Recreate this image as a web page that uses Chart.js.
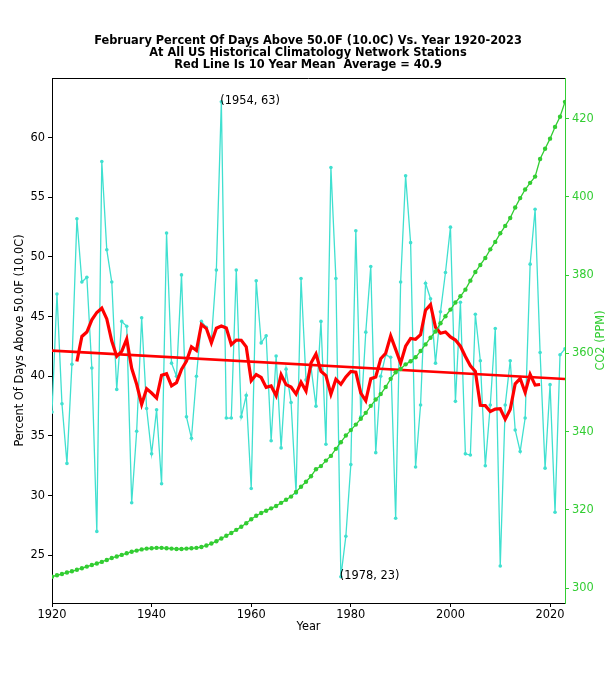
<!DOCTYPE html>
<html><head><meta charset="utf-8">
<script src="https://cdn.jsdelivr.net/npm/chart.js@4/dist/chart.umd.min.js"></script>
<style>html,body{margin:0;padding:0;background:#fff}#wrap{width:616px;height:680px}</style>
</head><body><div id="wrap"><canvas id="c" width="616" height="680"></canvas></div>
<script>
const titleLines = [
  'February Percent Of Days Above 50.0F (10.0C) Vs. Year 1920-2023',
  'At All US Historical Climatology Network Stations',
  'Red Line Is 10 Year Mean  Average = 40.9'
];
const years = [
  1920,1921,1922,1923,1924,1925,1926,1927,1928,1929,
  1930,1931,1932,1933,1934,1935,1936,1937,1938,1939,
  1940,1941,1942,1943,1944,1945,1946,1947,1948,1949,
  1950,1951,1952,1953,1954,1955,1956,1957,1958,1959,
  1960,1961,1962,1963,1964,1965,1966,1967,1968,1969,
  1970,1971,1972,1973,1974,1975,1976,1977,1978,1979,
  1980,1981,1982,1983,1984,1985,1986,1987,1988,1989,
  1990,1991,1992,1993,1994,1995,1996,1997,1998,1999,
  2000,2001,2002,2003,2004,2005,2006,2007,2008,2009,
  2010,2011,2012,2013,2014,2015,2016,2017,2018,2019,
  2020,2021,2022,2023
];
const pctDaysAbove50 = [
  37.0,46.9,37.7,32.7,41.0,53.2,47.9,48.3,40.7,27.0,
  58.0,50.6,47.9,38.9,44.6,44.2,29.4,35.4,44.9,37.3,
  33.5,37.2,31.0,52.0,41.1,40.0,48.5,36.6,34.8,40.0,
  44.6,44.1,43.0,48.9,63.0,36.5,36.5,48.9,36.6,38.4,
  30.6,48.0,42.8,43.4,34.6,41.7,34.0,40.6,37.8,30.2,
  48.2,39.7,40.8,37.5,44.6,34.3,57.5,48.2,23.2,26.6,
  32.6,52.2,36.6,43.7,49.2,33.6,40.0,41.8,41.6,28.1,
  47.9,56.8,51.2,32.4,37.6,47.8,46.5,41.1,45.4,48.7,
  52.5,37.9,46.2,33.5,33.4,45.2,41.3,32.5,37.6,44.0,
  24.1,37.6,41.3,35.5,33.7,36.5,49.4,54.0,42.0,32.3,
  39.3,28.6,41.8,42.3
];
const co2ppm = [
  302.9,303.3,303.6,304.0,304.3,304.7,305.1,305.5,305.9,306.3,
  306.7,307.2,307.7,308.1,308.5,308.9,309.3,309.6,309.9,310.1,
  310.2,310.3,310.3,310.2,310.1,310.0,310.0,310.1,310.2,310.3,
  310.5,310.9,311.4,312.0,312.7,313.4,314.1,314.9,315.7,316.6,
  317.6,318.5,319.2,319.8,320.4,321.0,321.8,322.6,323.4,324.6,
  325.9,327.2,328.6,330.4,331.2,332.6,333.8,335.6,337.3,339.0,
  340.4,341.8,343.3,344.8,346.6,348.2,349.6,351.4,353.5,355.2,
  356.0,357.2,358.0,359.0,360.6,362.3,364.0,365.6,367.7,369.5,
  371.2,373.0,374.6,376.3,378.6,380.8,382.6,384.4,386.6,388.5,
  390.7,392.6,394.6,397.3,399.7,401.9,403.6,405.2,409.7,412.3,
  414.9,417.9,420.5,424.3
];
const xTicks = [1920,1940,1960,1980,2000,2020];
const yTicks = [25,30,35,40,45,50,55,60];
const y2Ticks = [300,320,340,360,380,400,420];

const TURQ = '#40E0D0', RED = '#FF0000', GREEN = '#32CD32';
const FONT = '"DejaVu Sans", Verdana, sans-serif';
const FS = 11.4;

// derived series
const n = years.length;
const cyanPts = years.map((y, i) => ({x: y, y: pctDaysAbove50[i]}));
const co2Pts = years.map((y, i) => ({x: y, y: co2ppm[i]}));
const meanPts = [];
for (let i = 5; i < n - 5; i++) {
  let s = 0; for (let k = i - 5; k <= i + 4; k++) s += pctDaysAbove50[k];
  meanPts.push({x: years[i], y: s / 10});
}
let sx = 0, sy = 0, sxx = 0, sxy = 0;
for (let i = 0; i < n; i++) { const x = years[i], y = pctDaysAbove50[i]; sx += x; sy += y; sxx += x * x; sxy += x * y; }
const slope = (n * sxy - sx * sy) / (n * sxx - sx * sx);
const icpt = (sy - slope * sx) / n;
const trendPts = [years[0], years[n - 1]].map(x => ({x, y: icpt + slope * x}));

const setTicks = list => s => { s.ticks = list.map(v => ({value: v})); };

const framePlugin = {
  id: 'frame',
  afterDatasetsDraw(chart) {
    const {ctx, scales} = chart;
    ctx.save();
    ctx.fillStyle = '#000';
    ctx.font = FS + 'px ' + FONT;
    ctx.textAlign = 'left'; ctx.textBaseline = 'alphabetic';
    let iMax = 0, iMin = 0;
    pctDaysAbove50.forEach((v, i) => { if (v > pctDaysAbove50[iMax]) iMax = i; if (v < pctDaysAbove50[iMin]) iMin = i; });
    [iMax, iMin].forEach(i => {
      const px = scales.x.getPixelForValue(years[i]);
      const py = scales.y.getPixelForValue(pctDaysAbove50[i]);
      ctx.fillText('(' + years[i] + ', ' + Math.round(pctDaysAbove50[i]) + ')', px - 1, py + 2);
    });
    ctx.restore();
  },
  afterDraw(chart) {
    const {ctx, chartArea: a} = chart;
    ctx.save();
    ctx.strokeStyle = '#000'; ctx.lineWidth = 1;
    ctx.beginPath(); ctx.moveTo(a.left, Math.round(a.top) + 0.5); ctx.lineTo(a.right, Math.round(a.top) + 0.5); ctx.stroke();
    ctx.fillStyle = GREEN;
    ctx.font = FS + 'px ' + FONT;
    ctx.translate(601, (a.top + a.bottom) / 2);
    ctx.rotate(-Math.PI / 2);
    ctx.textAlign = 'center'; ctx.textBaseline = 'middle';
    ctx.fillText('CO2 (PPM)', 0, 0);
    ctx.restore();
  }
};

new Chart(document.getElementById('c'), {
  type: 'line',
  data: {
    datasets: [
      {data: co2Pts, yAxisID: 'y2', borderColor: GREEN, backgroundColor: GREEN, borderWidth: 1.3,
       pointRadius: 2.2, pointBorderWidth: 0, pointBackgroundColor: GREEN, order: 1},
      {data: trendPts, yAxisID: 'y', borderColor: RED, borderWidth: 2.6, pointRadius: 0, order: 2},
      {data: meanPts, yAxisID: 'y', borderColor: RED, borderWidth: 3.2, pointRadius: 0, order: 3},
      {data: cyanPts, yAxisID: 'y', borderColor: TURQ, backgroundColor: TURQ, borderWidth: 1.3,
       pointRadius: 1.8, pointBorderWidth: 0, pointBackgroundColor: TURQ, order: 4}
    ]
  },
  options: {
    responsive: false, animation: false, devicePixelRatio: 1,
    layout: {padding: 0},
    elements: {line: {tension: 0}},
    plugins: {
      legend: {display: false}, tooltip: {enabled: false},
      title: {display: true, text: titleLines, color: '#000',
        font: {family: FONT, size: FS, weight: 'bold', lineHeight: '12px'},
        padding: {top: 35, bottom: 7}}
    },
    scales: {
      x: {type: 'linear', min: 1920, max: 2023,
        afterBuildTicks: setTicks(xTicks),
        ticks: {color: '#000', padding: 1, maxRotation: 0,
          font: {family: FONT, size: FS}, callback: v => String(v)},
        grid: {display: true, drawOnChartArea: false, tickLength: 4, color: '#000'},
        border: {display: true, color: '#000', width: 1},
        title: {display: true, text: 'Year', color: '#000', font: {family: FONT, size: FS}, padding: {top: 0, bottom: 46}},
        afterFit: s => { s.height = 77; }
      },
      y: {type: 'linear', position: 'left', min: 21, max: 65,
        afterBuildTicks: setTicks(yTicks),
        ticks: {color: '#000', padding: 3,
          font: {family: FONT, size: FS}, callback: v => String(v)},
        grid: {display: true, drawOnChartArea: false, tickLength: 4, color: '#000'},
        border: {display: true, color: '#000', width: 1},
        title: {display: true, text: 'Percent Of Days Above 50.0F (10.0C)', color: '#000',
          font: {family: FONT, size: FS}, padding: {top: 13, bottom: 0}},
        afterFit: s => { s.width = 52; }
      },
      y2: {type: 'linear', position: 'right', min: 296.2, max: 430.4,
        afterBuildTicks: setTicks(y2Ticks),
        ticks: {color: GREEN, padding: 3,
          font: {family: FONT, size: FS}, callback: v => String(v)},
        grid: {display: true, drawOnChartArea: false, tickLength: 4, color: GREEN},
        border: {display: true, color: GREEN, width: 1},
        afterFit: s => { s.width = 51; }
      }
    }
  },
  plugins: [framePlugin]
});
</script>
</body></html>
